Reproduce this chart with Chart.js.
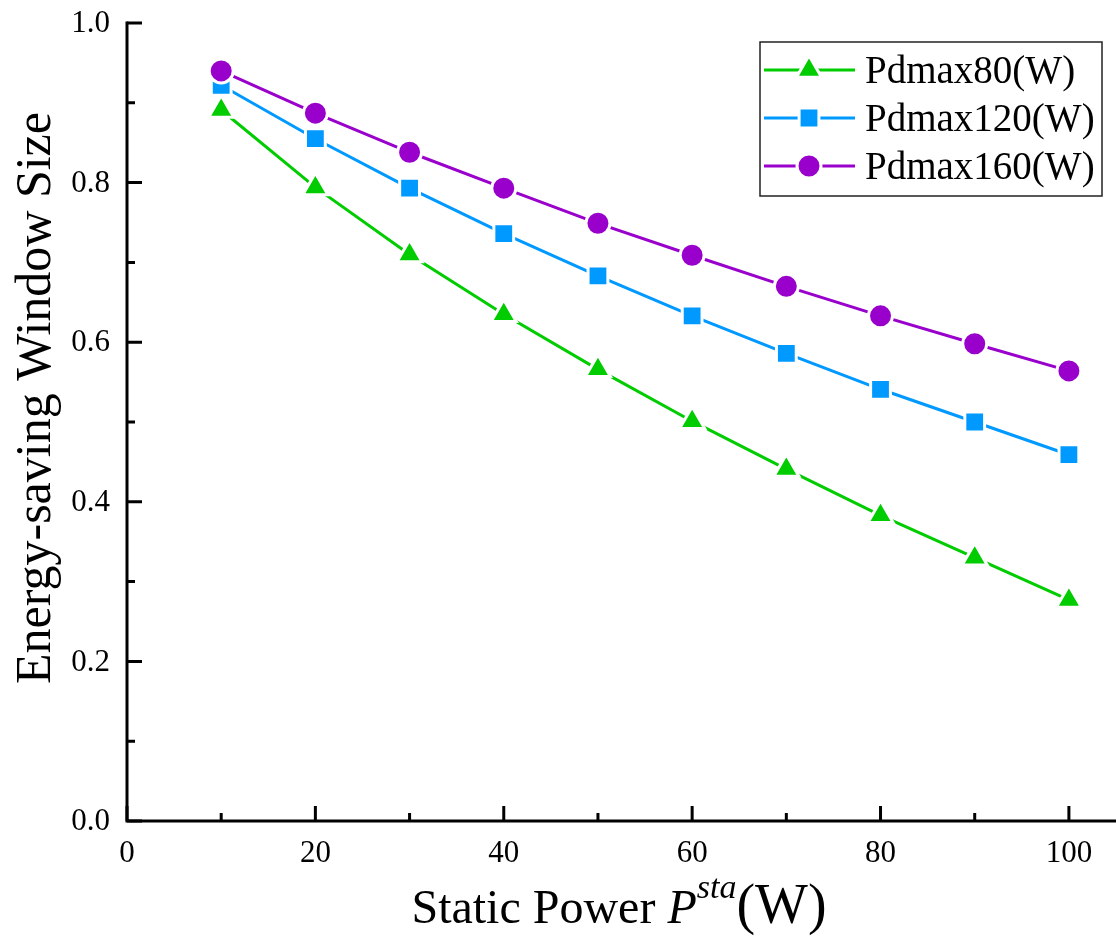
<!DOCTYPE html>
<html>
<head>
<meta charset="utf-8">
<script src="https://cdn.jsdelivr.net/npm/chart.js@4/dist/chart.umd.min.js"></script>
<style>
html,body{margin:0;padding:0;background:#fff;}
#wrap{width:1116px;height:938px;position:relative;}
</style>
</head>
<body>
<div id="wrap"><canvas id="c" width="1116" height="938"></canvas></div>
<script>
const xValues = [10, 20, 30, 40, 50, 60, 70, 80, 90, 100];
const pd80 = [0.891, 0.794, 0.710, 0.635, 0.566, 0.501, 0.441, 0.383, 0.330, 0.277];
const pd120 = [0.922, 0.855, 0.793, 0.736, 0.683, 0.633, 0.586, 0.541, 0.500, 0.459];
const pd160 = [0.940, 0.887, 0.838, 0.793, 0.749, 0.709, 0.670, 0.633, 0.598, 0.564];
const seriesNames = ['Pdmax80(W)', 'Pdmax120(W)', 'Pdmax160(W)'];
const xTicks = [0, 20, 40, 60, 80, 100];
const yTicks = [0.0, 0.2, 0.4, 0.6, 0.8, 1.0];

const FONT = '"Liberation Serif", "Times New Roman", serif';
const colors = ['#00cc00', '#0099ff', '#9900cc'];
const styles = ['triangle', 'rect', 'circle'];
const radii = [14.5, 14, 12];

function pts(arr){ return xValues.map((x,i)=>({x:x, y:arr[i]})); }

const datasets = [pd80, pd120, pd160].map((arr, i) => ({
  label: seriesNames[i],
  data: pts(arr),
  borderColor: colors[i],
  backgroundColor: colors[i],
  borderWidth: 3,
  pointStyle: styles[i],
  pointRadius: radii[i],
  pointHoverRadius: radii[i],
  pointBackgroundColor: colors[i],
  pointBorderColor: '#ffffff',
  pointBorderWidth: 3,
  tension: 0,
  clip: false,
  order: 3 - i
}));

const axesPlugin = {
  id: 'axesPlugin',
  afterDraw(chart) {
    const ctx = chart.ctx;
    const xs = chart.scales.x, ys = chart.scales.y;
    const x0 = xs.getPixelForValue(0);
    const y0 = ys.getPixelForValue(0);
    const yTop = ys.getPixelForValue(1.0);
    ctx.save();
    ctx.strokeStyle = '#000';
    ctx.lineWidth = 3;
    ctx.lineCap = 'butt';
    ctx.beginPath();
    ctx.moveTo(x0, yTop - 1.5);
    ctx.lineTo(x0, y0 + 1.5);
    ctx.moveTo(x0 - 1.5, y0);
    ctx.lineTo(chart.width, y0);
    ctx.stroke();
    ctx.beginPath();
    for (let v = 0; v <= 10; v++) {
      const py = ys.getPixelForValue(v / 10);
      const len = (v % 2 === 0) ? 15 : 8;
      ctx.moveTo(x0, py);
      ctx.lineTo(x0 + len, py);
    }
    for (let v = 0; v <= 100; v += 10) {
      const px = xs.getPixelForValue(v);
      const len = (v % 20 === 0) ? 15 : 8;
      ctx.moveTo(px, y0);
      ctx.lineTo(px, y0 - len);
    }
    ctx.stroke();

    ctx.fillStyle = '#000';
    ctx.font = '31px ' + FONT;
    ctx.textAlign = 'right';
    ctx.textBaseline = 'middle';
    yTicks.forEach(v => {
      ctx.fillText(v.toFixed(1), x0 - 17, ys.getPixelForValue(v) + 1);
    });
    ctx.textAlign = 'center';
    ctx.textBaseline = 'alphabetic';
    xTicks.forEach(v => {
      ctx.fillText(String(v), xs.getPixelForValue(v), 862);
    });

    ctx.save();
    ctx.translate(50, 398);
    ctx.rotate(-Math.PI / 2);
    ctx.font = '50px ' + FONT;
    ctx.textAlign = 'center';
    ctx.textBaseline = 'alphabetic';
    ctx.fillText('Energy-saving Window Size', 0, 0);
    ctx.restore();

    const parts = [
      {t: 'Static Power ', f: '48px ' + FONT, dy: 0},
      {t: 'P', f: 'italic 48px ' + FONT, dy: 0},
      {t: 'sta', f: 'italic 34px ' + FONT, dy: -25},
      {t: '(W)', f: '56px ' + FONT, dy: 0}
    ];
    let total = 0;
    parts.forEach(p => { ctx.font = p.f; p.w = ctx.measureText(p.t).width; total += p.w; });
    let cx = 619 - total / 2;
    const baseY = 923;
    ctx.textAlign = 'left';
    ctx.textBaseline = 'alphabetic';
    parts.forEach(p => { ctx.font = p.f; ctx.fillText(p.t, cx, baseY + p.dy); cx += p.w; });

    const lx = 760, ly = 42, lw = 342, lh = 154;
    ctx.fillStyle = '#fff';
    ctx.fillRect(lx, ly, lw, lh);
    ctx.lineWidth = 1.5;
    ctx.strokeStyle = '#222';
    ctx.strokeRect(lx, ly, lw, lh);
    const rows = [70, 118, 166];
    chart.data.datasets.forEach((ds, i) => {
      const ry = rows[i];
      ctx.strokeStyle = ds.borderColor;
      ctx.lineWidth = 3;
      ctx.beginPath();
      ctx.moveTo(764, ry); ctx.lineTo(855, ry);
      ctx.stroke();
      ctx.fillStyle = ds.borderColor;
      ctx.strokeStyle = '#fff';
      ctx.lineWidth = 3;
      Chart.helpers.drawPoint(ctx, {pointStyle: ds.pointStyle, radius: ds.pointRadius, borderWidth: 3, rotation: 0}, 809, ry);
      ctx.fillStyle = '#000';
      ctx.font = '39px ' + FONT;
      ctx.textAlign = 'left';
      ctx.textBaseline = 'alphabetic';
      ctx.fillText(ds.label, 865, ry + 13);
    });
    ctx.restore();
  }
};

new Chart(document.getElementById('c'), {
  type: 'line',
  data: { datasets: datasets },
  options: {
    responsive: false,
    animation: false,
    devicePixelRatio: 1,
    layout: { autoPadding: false, padding: { top: 23, right: 0, left: 0, bottom: 0 } },
    plugins: { legend: { display: false }, tooltip: { enabled: false } },
    scales: {
      x: {
        type: 'linear', min: 0, max: 105,
        grid: { display: false, drawTicks: false },
        border: { display: false },
        ticks: { display: false },
        afterFit: s => { s.height = 117; }
      },
      y: {
        type: 'linear', min: 0, max: 1.0,
        grid: { display: false, drawTicks: false },
        border: { display: false },
        ticks: { display: false },
        afterFit: s => { s.width = 127; }
      }
    }
  },
  plugins: [axesPlugin]
});
</script>
</body>
</html>
